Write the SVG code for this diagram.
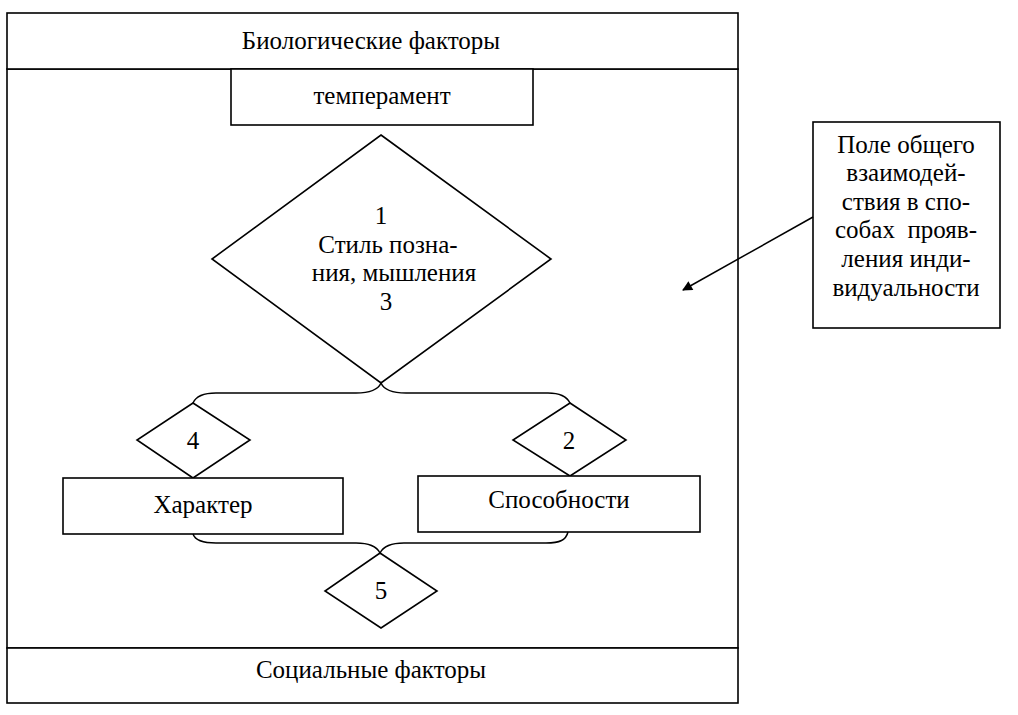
<svg xmlns="http://www.w3.org/2000/svg" width="1018" height="715" viewBox="0 0 1018 715">
<style>
.box{fill:#fff;stroke:#000;stroke-width:1.6}
.ln{fill:none;stroke:#000;stroke-width:1.5}
.t{font-size:25px;fill:#000;text-anchor:middle}
</style>
<defs>
<marker id="ah" viewBox="0 0 10 10" refX="9" refY="5" markerWidth="12" markerHeight="10" markerUnits="userSpaceOnUse" orient="auto">
<path d="M0,0 L10,5 L0,10 Z" fill="#000"/>
</marker>
</defs>
<rect width="1018" height="715" fill="#fff"/>
<g id="field"><rect class="box" x="7" y="69" width="731" height="579"/></g>
<g id="bio"><rect class="box" x="7" y="13" width="731" height="56"/><text class="t" font-family="Liberation Serif, serif" x="371" y="49">Биологические факторы</text></g>
<g id="social"><rect class="box" x="7" y="648" width="731" height="55"/><text class="t" font-family="Liberation Serif, serif" x="371" y="678">Социальные факторы</text></g>
<g id="temperament"><rect class="box" x="231" y="69" width="302" height="56"/><text class="t" font-family="Liberation Serif, serif" x="382" y="104">темперамент</text></g>
<g id="style"><polygon class="box" points="381,135 551,259 381,383 212,259"/>
<text class="t" font-family="Liberation Serif, serif" x="381" y="224">1</text><text class="t" font-family="Liberation Serif, serif" x="388" y="253">Стиль позна-</text><text class="t" font-family="Liberation Serif, serif" x="394" y="281">ния, мышления</text><text class="t" font-family="Liberation Serif, serif" x="386" y="310">3</text></g>
<g id="d4"><polygon class="box" points="193,403 250,440 193,478 137,440"/><text class="t" font-family="Liberation Serif, serif" x="193" y="449">4</text></g>
<g id="d2"><polygon class="box" points="570,403 626,440 570,476 513,440"/><text class="t" font-family="Liberation Serif, serif" x="569" y="449">2</text></g>
<g id="character"><rect class="box" x="63" y="478" width="280" height="56"/><text class="t" font-family="Liberation Serif, serif" x="203" y="513">Характер</text></g>
<g id="abilities"><rect class="box" x="418" y="476" width="282" height="56"/><text class="t" font-family="Liberation Serif, serif" x="559" y="508">Способности</text></g>
<g id="d5"><polygon class="box" points="380,553 437,591 381,628 325,591"/><text class="t" font-family="Liberation Serif, serif" x="381" y="599">5</text></g>
<g id="note"><rect class="box" x="813" y="122" width="187" height="206"/>
<text class="t" font-family="Liberation Serif, serif" x="906" y="153">Поле общего</text><text class="t" font-family="Liberation Serif, serif" x="906" y="181">взаимодей-</text><text class="t" font-family="Liberation Serif, serif" x="906" y="210">ствия в спо-</text><text class="t" font-family="Liberation Serif, serif" x="906" y="238" xml:space="preserve">собах  прояв-</text><text class="t" font-family="Liberation Serif, serif" x="906" y="267">ления инди-</text><text class="t" font-family="Liberation Serif, serif" x="906" y="296">видуальности</text></g>
<g id="connectors">
<path class="ln" d="M193,403 C196,396 204,393 216,393 L356,393 C370,393 378,390 381,383 C384,390 392,393 406,393 L548,393 C560,393 567,397 570,403"/>
<path class="ln" d="M193,534 C195,540 202,543 216,543 L356,543 C370,543 377,547 380,553 C383,547 390,543 404,543 L546,543 C560,543 566,540 568,532"/>
<line class="ln" x1="813" y1="217" x2="683" y2="290" marker-end="url(#ah)"/>
</g>
</svg>
